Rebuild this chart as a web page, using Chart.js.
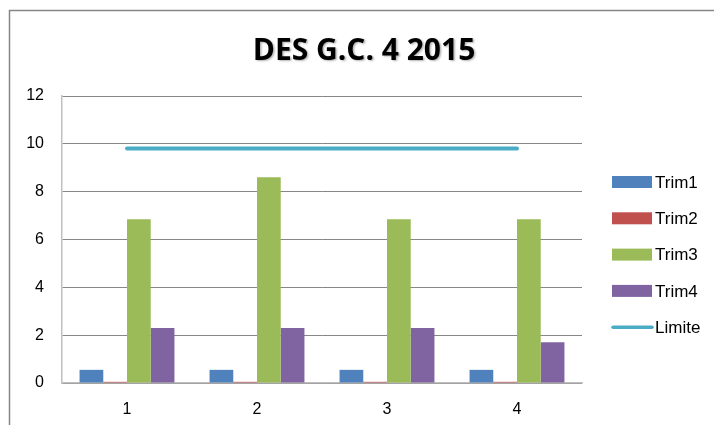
<!DOCTYPE html>
<html>
<head>
<meta charset="utf-8">
<script src="https://cdn.jsdelivr.net/npm/chart.js@4/dist/chart.umd.min.js"></script>
<style>
  html, body { margin: 0; padding: 0; background: #fff; }
  #wrap { width: 714px; height: 425px; }
</style>
</head>
<body>
<div id="wrap"><canvas id="chart" width="714" height="425"></canvas></div>
<script>
// data
const chartTitle = "DES G.C. 4 2015";
const categories = ["1", "2", "3", "4"];
const trim1 = [0.55, 0.55, 0.55, 0.55];
const trim2 = [0.05, 0.05, 0.05, 0.05];
const trim3 = [6.85, 8.6, 6.85, 6.85];
const trim4 = [2.3, 2.3, 2.3, 1.7];
const limite = [9.8, 9.8, 9.8, 9.8];
const seriesNames = ["Trim1", "Trim2", "Trim3", "Trim4", "Limite"];

const colors = ["#4F81BD", "#C0504D", "#9BBB59", "#8064A2", "#4BACC6"];
const labelFont = "'Liberation Sans', sans-serif";

// frame, title and legend are drawn by hand to look like the Excel chart
const decor = {
	id: "decor",
	beforeDraw(chart) {
		let ctx = chart.ctx;
		ctx.save();
		ctx.fillStyle = "#fff";
		ctx.fillRect(0, 0, chart.width, chart.height);
		ctx.strokeStyle = "#868686";
		ctx.lineWidth = 1.5;
		ctx.strokeRect(9.5, 10.5, 800, 600);
		ctx.restore();
	},
	afterDraw(chart) {
		let ctx = chart.ctx;
		ctx.save();
		// title with soft shadow
		ctx.font = "bold 30px 'Open Sans', sans-serif";
		ctx.textAlign = "center";
		ctx.textBaseline = "middle";
		ctx.shadowColor = "rgba(0,0,0,0.3)";
		ctx.shadowOffsetX = 1.5;
		ctx.shadowOffsetY = 1.5;
		ctx.shadowBlur = 2;
		ctx.fillStyle = "#000";
		ctx.fillText(chartTitle, 364, 51);
		ctx.restore();

		// legend
		ctx.save();
		ctx.font = "17px " + labelFont;
		ctx.textBaseline = "middle";
		let x = 612;
		let y = 182;
		seriesNames.forEach(function (name, i) {
			let yy = y + i * 36.3;
			if (i < 4) {
				ctx.fillStyle = colors[i];
				ctx.fillRect(x, yy - 6, 40, 12);
			} else {
				ctx.strokeStyle = colors[i];
				ctx.lineWidth = 3.5;
				ctx.lineCap = "round";
				ctx.beginPath();
				ctx.moveTo(x + 1, yy);
				ctx.lineTo(x + 40, yy);
				ctx.stroke();
			}
			ctx.fillStyle = "#000";
			ctx.fillText(name, x + 43, yy + 1);
		});
		ctx.restore();
	}
};

const barSets = [trim1, trim2, trim3, trim4].map(function (d, i) {
	return {
		type: "bar",
		label: seriesNames[i],
		data: d,
		backgroundColor: colors[i],
		categoryPercentage: 0.73,
		barPercentage: 1,
		order: 2
	};
});

new Chart(document.getElementById("chart"), {
	type: "bar",
	data: {
		labels: categories,
		datasets: barSets.concat([{
			type: "line",
			label: seriesNames[4],
			data: limite,
			borderColor: colors[4],
			borderWidth: 4,
			borderCapStyle: "round",
			pointRadius: 0,
			fill: false,
			order: 1
		}])
	},
	options: {
		responsive: false,
		animation: false,
		layout: { padding: { left: 0, top: 96, right: 132, bottom: 0 } },
		plugins: {
			legend: { display: false },
			title: { display: false },
			tooltip: { enabled: false }
		},
		scales: {
			x: {
				grid: { display: false, drawTicks: false },
				border: { color: "#BFBFBF", width: 1.5 },
				ticks: {
					color: "#000",
					font: { family: labelFont, size: 16 },
					padding: 17
				},
				afterFit(scale) { scale.height = 42; }
			},
			y: {
				min: 0,
				max: 12,
				ticks: {
					stepSize: 2,
					color: "#000",
					font: { family: labelFont, size: 16 },
					padding: 18
				},
				grid: { color: "#878787", drawTicks: false, lineWidth: 1 },
				border: { color: "#BFBFBF", width: 1.5 },
				afterFit(scale) { scale.width = 62; }
			}
		}
	},
	plugins: [decor]
});
</script>
</body>
</html>
